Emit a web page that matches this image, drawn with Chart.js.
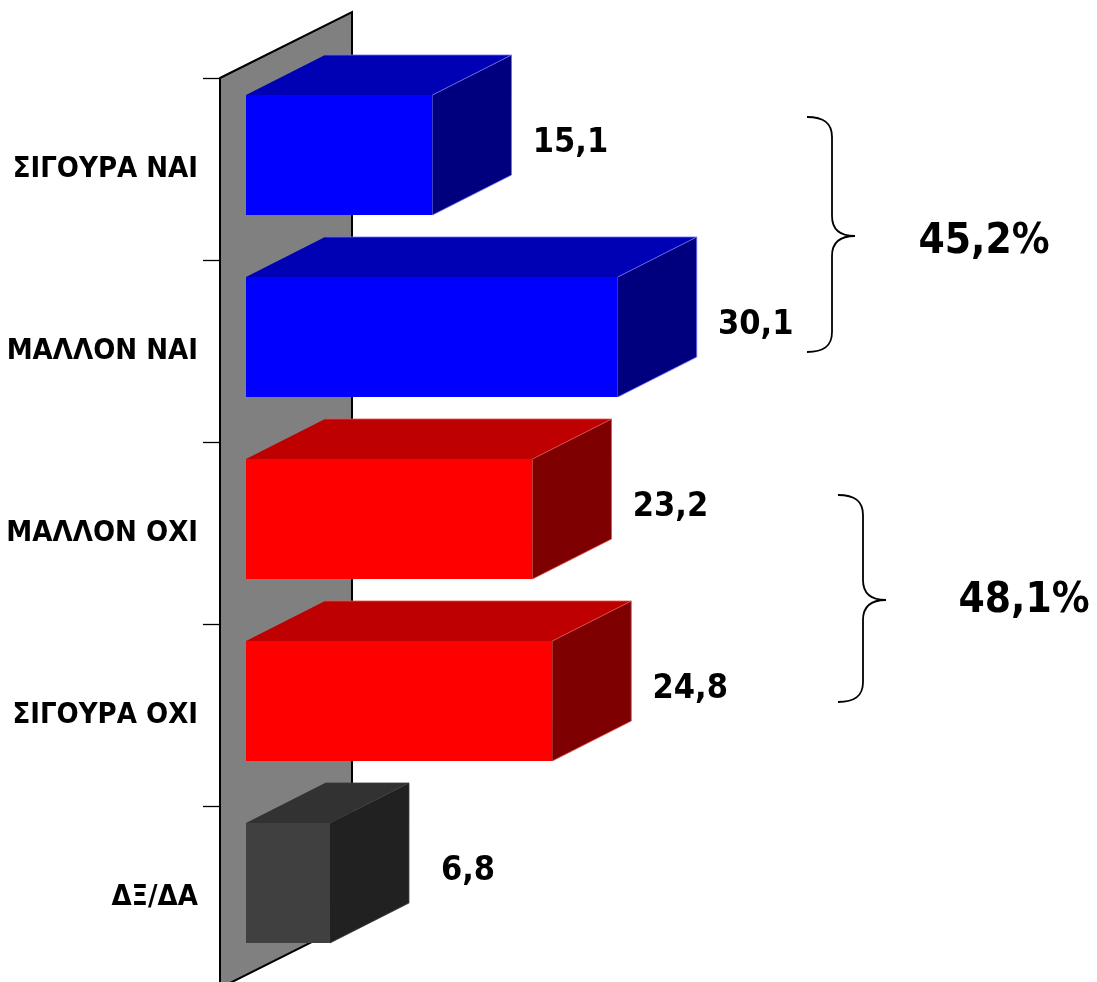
<!DOCTYPE html>
<html>
<head>
<meta charset="utf-8">
<script src="https://cdn.jsdelivr.net/npm/chart.js@4.4.1/dist/chart.umd.min.js"></script>
<style>
html, body { margin: 0; padding: 0; background: #fff; overflow: hidden; }
#wrap { width: 1097px; height: 982px; position: relative; }
</style>
</head>
<body>
<div id="wrap"><canvas id="voteChart"></canvas></div>
<script>
const categories = ['ΣΙΓΟΥΡΑ ΝΑΙ', 'ΜΑΛΛΟΝ ΝΑΙ', 'ΜΑΛΛΟΝ ΟΧΙ', 'ΣΙΓΟΥΡΑ ΟΧΙ', 'ΔΞ/ΔΑ'];
const values = [15.1, 30.1, 23.2, 24.8, 6.8];
const groupTotals = [45.2, 48.1];

const frontColors = ['#0000ff', '#0000ff', '#ff0000', '#ff0000', '#404040'];
const topColors = ['#0000b4', '#0000b4', '#bf0000', '#bf0000', '#323232'];
const sideColors = ['#00007f', '#00007f', '#7f0000', '#7f0000', '#212121'];
const edgeColors = ['#6e6eff', '#6e6eff', '#e05050', '#e05050', '#3a3a3a'];

const FONT = '"DejaVu Sans Condensed", "DejaVu Sans", sans-serif';
const fmt = (v, d = 1) => v.toFixed(d).replace('.', ',');

// oblique projection used for the fake 3D look
const BAR_DX = 79, BAR_DY = 40;       // bar depth
const WALL_DX = 132, WALL_DY = 66;    // side wall depth
const FRONT_DX = 26, FRONT_DY = 14;   // gap between wall base and bar front

// braces on the right: [x, top, bottom, tipY, textX, textY]
const braceLayout = [
    [807, 117, 352, 236, 984, 242],
    [838, 495, 702, 600, 1024, 601]
];

const box3d = {
    id: 'box3d',
    beforeDatasetsDraw(chart) {
        const { ctx, chartArea } = chart;
        const wx = chartArea.left - FRONT_DX;
        const top = chartArea.top + FRONT_DY;
        const bottom = chartArea.bottom + FRONT_DY;

        ctx.save();
        ctx.beginPath();
        ctx.moveTo(wx, top);
        ctx.lineTo(wx + WALL_DX, top - WALL_DY);
        ctx.lineTo(wx + WALL_DX, bottom - WALL_DY);
        ctx.lineTo(wx, bottom);
        ctx.closePath();
        ctx.fillStyle = '#808080';
        ctx.fill();
        ctx.strokeStyle = '#000';
        ctx.lineWidth = 2;
        ctx.stroke();

        // tick marks on the category boundaries
        ctx.lineWidth = 1.3;
        const step = (chartArea.bottom - chartArea.top) / categories.length;
        for (let i = 0; i <= categories.length; i++) {
            const ty = Math.round(top + i * step) + 0.5;
            ctx.beginPath();
            ctx.moveTo(wx - 17, ty);
            ctx.lineTo(wx, ty);
            ctx.stroke();
        }
        ctx.restore();
    },
    afterDatasetsDraw(chart) {
        const { ctx } = chart;
        const bars = chart.getDatasetMeta(0).data;
        ctx.save();
        bars.forEach((bar, i) => {
            const { x, y, base, height } = bar.getProps(['x', 'y', 'base', 'height'], true);
            const t = y - height / 2, b = y + height / 2;

            // top face
            ctx.beginPath();
            ctx.moveTo(base, t);
            ctx.lineTo(x, t);
            ctx.lineTo(x + BAR_DX, t - BAR_DY);
            ctx.lineTo(base + BAR_DX, t - BAR_DY);
            ctx.closePath();
            ctx.fillStyle = topColors[i];
            ctx.fill();

            // right face
            ctx.beginPath();
            ctx.moveTo(x, t);
            ctx.lineTo(x + BAR_DX, t - BAR_DY);
            ctx.lineTo(x + BAR_DX, b - BAR_DY);
            ctx.lineTo(x, b);
            ctx.closePath();
            ctx.fillStyle = sideColors[i];
            ctx.fill();

            // thin light edges on the back
            ctx.beginPath();
            ctx.moveTo(base + BAR_DX, t - BAR_DY);
            ctx.lineTo(x + BAR_DX, t - BAR_DY);
            ctx.lineTo(x + BAR_DX, b - BAR_DY);
            ctx.lineTo(x, b);
            ctx.moveTo(x, t);
            ctx.lineTo(x + BAR_DX, t - BAR_DY);
            ctx.strokeStyle = edgeColors[i];
            ctx.lineWidth = 0.8;
            ctx.stroke();

            // value label
            ctx.fillStyle = '#000';
            ctx.font = `bold 34px ${FONT}`;
            ctx.textAlign = 'center';
            ctx.textBaseline = 'middle';
            ctx.fillText(fmt(values[i]), x + BAR_DX + 59, y - 12);
        });

        // braces with the grouped totals
        ctx.strokeStyle = '#000';
        ctx.lineWidth = 1.8;
        braceLayout.forEach(([bx, top, bottom, tip, tx, ty], g) => {
            const mx = bx + 25, px = bx + 48;
            ctx.beginPath();
            ctx.moveTo(bx, top);
            ctx.bezierCurveTo(bx + 17, top, mx, top + 6, mx, top + 20);
            ctx.lineTo(mx, tip - 20);
            ctx.bezierCurveTo(mx, tip - 6, mx + 8, tip, px, tip);
            ctx.bezierCurveTo(mx + 8, tip, mx, tip + 6, mx, tip + 20);
            ctx.lineTo(mx, bottom - 20);
            ctx.bezierCurveTo(mx, bottom - 6, bx + 17, bottom, bx, bottom);
            ctx.stroke();

            ctx.fillStyle = '#000';
            ctx.font = `bold 42px ${FONT}`;
            ctx.textAlign = 'center';
            ctx.textBaseline = 'middle';
            ctx.fillText(fmt(groupTotals[g]) + '%', tx, ty);
        });
        ctx.restore();
    }
};

new Chart(document.getElementById('voteChart'), {
    type: 'bar',
    data: {
        labels: categories,
        datasets: [{
            data: values,
            backgroundColor: frontColors,
            borderWidth: 0,
            barPercentage: 120 / 182,
            categoryPercentage: 1
        }]
    },
    options: {
        indexAxis: 'y',
        responsive: true,
        maintainAspectRatio: false,
        animation: false,
        layout: { padding: { top: 64, bottom: 8, left: 0, right: 110 } },
        plugins: { legend: { display: false }, tooltip: { enabled: false } },
        scales: {
            x: { display: false, min: 0, max: 60 },
            y: {
                afterFit: s => {
                    s.width = 246;
                    // label padding should not shrink the plot area
                    s.paddingTop = 0;
                    s.paddingBottom = 0;
                },
                grid: { display: false, drawTicks: false },
                border: { display: false },
                ticks: {
                    padding: 48,
                    labelOffset: 14,
                    color: '#000',
                    font: { family: FONT, weight: 'bold', size: 29 }
                }
            }
        }
    },
    plugins: [box3d]
});
</script>
</body>
</html>
